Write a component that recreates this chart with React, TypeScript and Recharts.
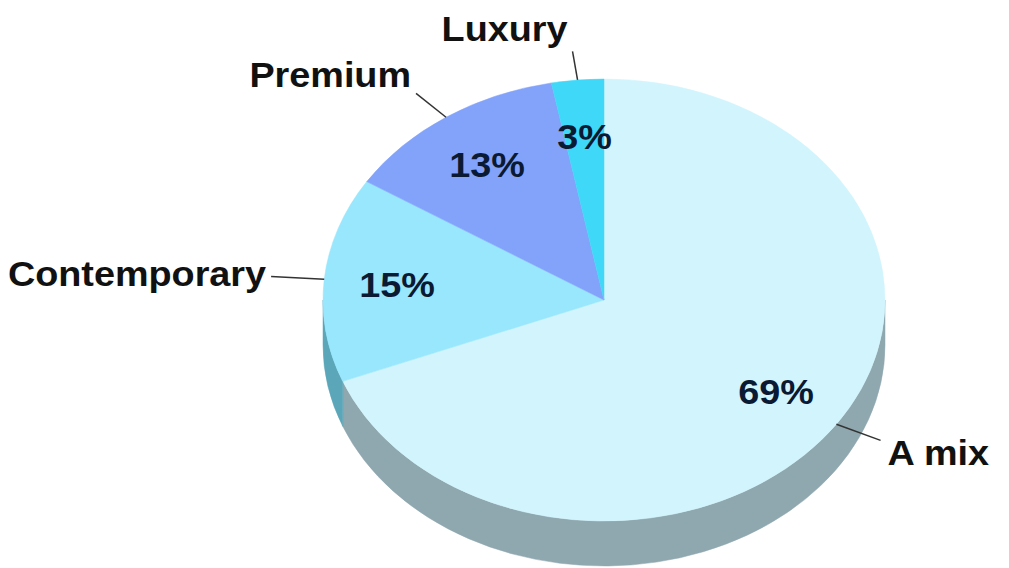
import { PieChart, Pie, Cell } from 'recharts'

const segments = ['A mix', 'Contemporary', 'Premium', 'Luxury']
const shares = [69, 15, 13, 3]

const TOP_COLORS = ['#d2f4fd', '#99e7fd', '#83a3fb', '#3fd8f8']
const SIDE_COLORS = ['#8fa7af', '#5ba7b9', '#5a78c0', '#2aa8c4']

const data = segments.map((name, i) => ({ name, value: shares[i] }))

const SQUASH = 221 / 281
const DEPTH = 45
const RAD = Math.PI / 180
const FONT = '"Liberation Sans", Arial, sans-serif'

const pt = (cx: number, cy: number, rx: number, ry: number, a: number) => [
  cx + rx * Math.cos(a * RAD),
  cy - ry * Math.sin(a * RAD),
]

function Slice3D(props: any) {
  const { cx, cy, outerRadius, startAngle, endAngle } = props
  const name = props.name ?? props.payload?.name
  const idx = Math.max(0, segments.indexOf(name))
  const rx = outerRadius
  const ry = outerRadius * SQUASH
  const hi = Math.max(startAngle, endAngle)
  const lo = Math.min(startAngle, endAngle)

  // front-facing wall: the part of the slice in the lower half of the ellipse
  const walls: string[] = []
  for (const [s0, s1] of [[-180, 0], [180, 360], [-540, -360]]) {
    const b1 = Math.min(hi, s1)
    const b2 = Math.max(lo, s0)
    if (b1 > b2) {
      const [x1, y1] = pt(cx, cy, rx, ry, b1)
      const [x2, y2] = pt(cx, cy, rx, ry, b2)
      walls.push(
        `M${x1},${y1} A${rx},${ry} 0 0 1 ${x2},${y2} L${x2},${y2 + DEPTH} A${rx},${ry} 0 0 0 ${x1},${y1 + DEPTH} Z`
      )
    }
  }

  const [sx, sy] = pt(cx, cy, rx, ry, hi)
  const [ex, ey] = pt(cx, cy, rx, ry, lo)
  const large = hi - lo > 180 ? 1 : 0
  const top = `M${cx},${cy} L${sx},${sy} A${rx},${ry} 0 ${large} 1 ${ex},${ey} Z`

  return (
    <g>
      {walls.map((d, i) => (
        <path key={i} d={d} fill={SIDE_COLORS[idx]} stroke={SIDE_COLORS[idx]} strokeWidth={0.5} />
      ))}
      <path d={top} fill={TOP_COLORS[idx]} stroke={TOP_COLORS[idx]} strokeWidth={0.5} />
    </g>
  )
}

function renderLabel(props: any) {
  const { cx, cy, midAngle, outerRadius, name, value } = props
  const rx = outerRadius
  const ry = outerRadius * SQUASH
  const c = Math.cos(midAngle * RAD)
  const s = Math.sin(midAngle * RAD)
  const [ix, iy] = [cx + rx * 0.74 * c, cy - ry * 0.74 * s]
  const [ax, ay] = [cx + rx * c, cy - ry * s]
  const [bx, by] = [cx + rx * 1.19 * c, cy - ry * 1.13 * s]
  const left = c < 0
  const tx = bx + (left ? -5 : 7)
  const ty = by - 22 * s
  return (
    <g>
      <text
        transform={`translate(${ix},${iy}) scale(1.08,1)`}
        textAnchor="middle"
        dominantBaseline="central"
        fontFamily={FONT}
        fontWeight="bold"
        fontSize={35}
        fill="#0b1a33"
      >
        {`${value}%`}
      </text>
      <line x1={ax} y1={ay} x2={bx} y2={by} stroke="#333" strokeWidth={1.5} />
      <text
        transform={`translate(${tx},${ty}) scale(1.08,1)`}
        textAnchor={left ? 'end' : 'start'}
        dominantBaseline="central"
        fontFamily={FONT}
        fontWeight="bold"
        fontSize={35}
        fill="#111"
      >
        {name}
      </text>
    </g>
  )
}

export default function App() {
  return (
    <div style={{ position: 'absolute', left: 0, top: 0, background: '#fff' }}>
      <PieChart width={1009} height={568} margin={{ top: 0, right: 0, bottom: 0, left: 0 }}>
        <Pie
          data={data}
          dataKey="value"
          nameKey="name"
          cx={604}
          cy={300}
          outerRadius={281}
          startAngle={90}
          endAngle={-270}
          stroke="none"
          shape={Slice3D}
          label={renderLabel}
          labelLine={false}
          isAnimationActive={false}
        >
          {data.map((d, i) => (
            <Cell key={d.name} fill={TOP_COLORS[i]} />
          ))}
        </Pie>
      </PieChart>
    </div>
  )
}
